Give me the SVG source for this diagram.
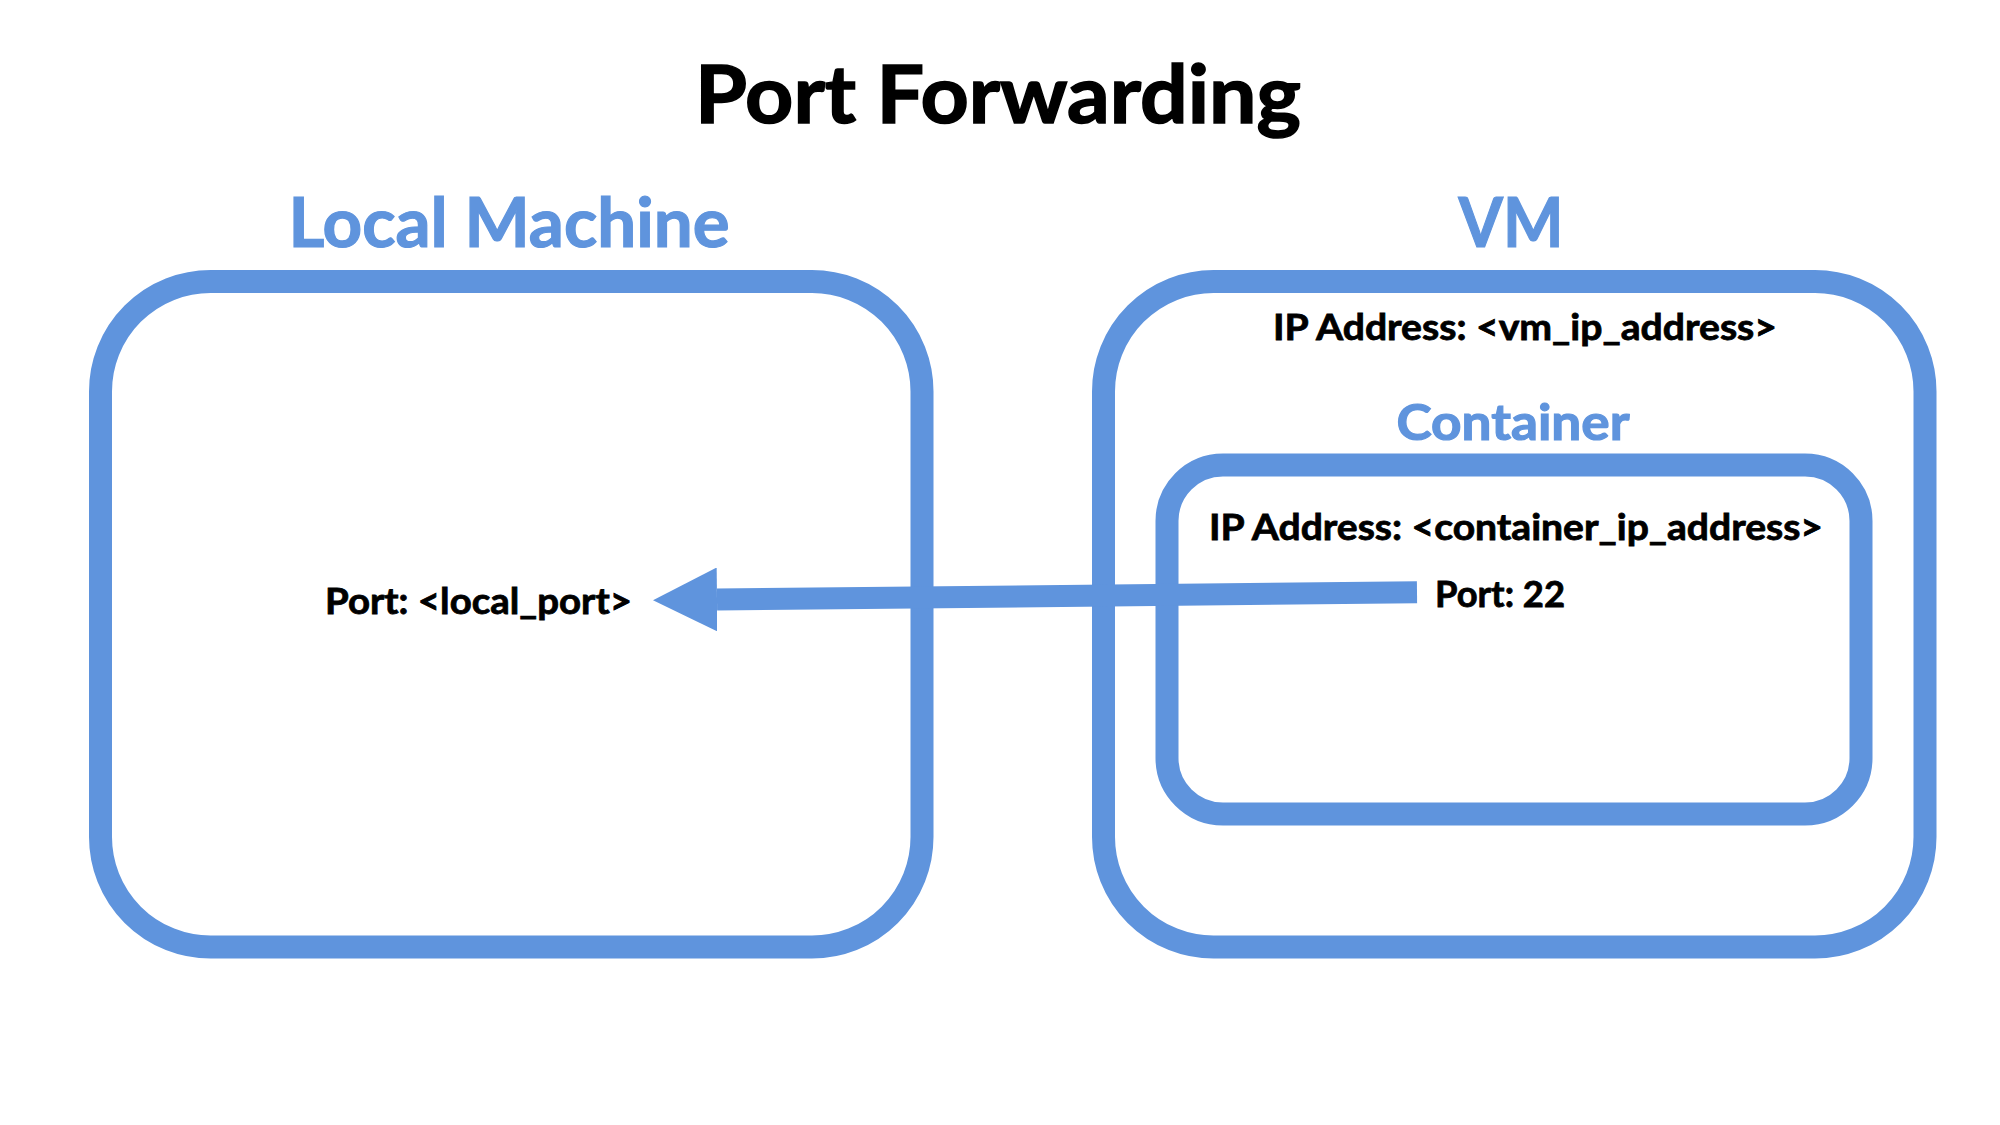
<svg xmlns="http://www.w3.org/2000/svg" width="2000" height="1125" viewBox="0 0 2000 1125">
  <style>
    .box { fill: none; stroke: #5F94DD; stroke-width: 23; }
    .t { font-family: Lato, "Open Sans", "Liberation Sans", sans-serif; font-weight: 700; }
    .blue { fill: #5F94DD; stroke: #5F94DD; stroke-width: 1.2; }
    .black { fill: #000000; stroke: #000000; stroke-width: 0.8; }
  </style>
  <defs>
    <marker id="head" markerUnits="userSpaceOnUse" markerWidth="64" markerHeight="64" viewBox="0 -32 64 64" refX="0" refY="0" orient="auto">
      <path d="M0,-32 L64,0 L0,32 Z" fill="#5F94DD"/>
    </marker>
  </defs>
  <rect width="2000" height="1125" fill="#ffffff"/>
  <text class="t black" x="998" y="123" font-size="80" text-anchor="middle" textLength="606" lengthAdjust="spacingAndGlyphs" style="stroke-width:1.5">Port Forwarding</text>

  <g id="local-machine">
    <text class="t blue" x="509" y="247" font-size="68" text-anchor="middle" textLength="441" lengthAdjust="spacingAndGlyphs">Local Machine</text>
    <rect class="box" x="100.5" y="281.5" width="821.5" height="665.5" rx="110" ry="110"/>
    <text class="t black" x="325" y="614" font-size="37" textLength="307" lengthAdjust="spacingAndGlyphs">Port: &lt;local_port&gt;</text>
  </g>

  <g id="vm">
    <text class="t blue" x="1511" y="247" font-size="68" text-anchor="middle" textLength="105" lengthAdjust="spacingAndGlyphs">VM</text>
    <rect class="box" x="1103.5" y="281.5" width="821.5" height="665.5" rx="110" ry="110"/>
    <text class="t black" x="1525" y="339.5" font-size="37" text-anchor="middle" textLength="504" lengthAdjust="spacingAndGlyphs">IP Address: &lt;vm_ip_address&gt;</text>
  </g>

  <g id="container">
    <text class="t blue" x="1513" y="440" font-size="50" text-anchor="middle" textLength="233" lengthAdjust="spacingAndGlyphs">Container</text>
    <rect class="box" x="1167" y="465" width="694" height="349" rx="56" ry="56"/>
    <text class="t black" x="1516" y="540" font-size="37" text-anchor="middle" textLength="614" lengthAdjust="spacingAndGlyphs">IP Address: &lt;container_ip_address&gt;</text>
    <text class="t black" x="1435" y="606.5" font-size="37" textLength="130" lengthAdjust="spacingAndGlyphs">Port: 22</text>
  </g>

  <g id="connectors">
    <line x1="1417" y1="592.3" x2="717" y2="599.5" stroke="#5F94DD" stroke-width="22" marker-end="url(#head)"/>
  </g>
</svg>
